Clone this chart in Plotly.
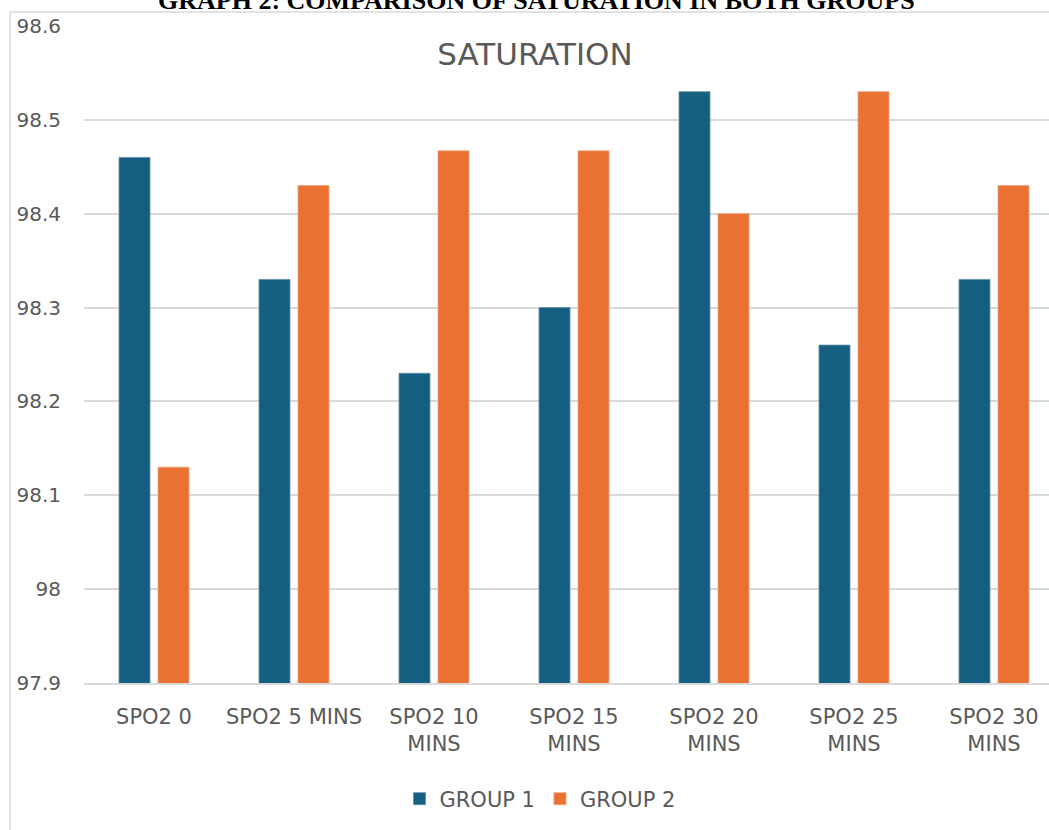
import plotly.graph_objects as go

categories = ["SPO2 0", "SPO2 5 MINS", "SPO2 10<br>MINS", "SPO2 15<br>MINS",
              "SPO2 20<br>MINS", "SPO2 25<br>MINS", "SPO2 30<br>MINS"]
group1 = [98.46, 98.33, 98.23, 98.30, 98.53, 98.26, 98.33]
group2 = [98.13, 98.43, 98.467, 98.467, 98.40, 98.53, 98.43]
y_tickvals = [97.9, 98.0, 98.1, 98.2, 98.3, 98.4, 98.5, 98.6]
y_ticktext = ["97.9", "98", "98.1", "98.2", "98.3", "98.4", "98.5", "98.6"]

W, H = 1049, 830
L, T, B = 84, 26, 147
PW = W - L
PH = H - T - B

def px_x(p):
    return (p - L) / PW

def px_y(p):
    return (H - B - p) / PH

fig = go.Figure()
fig.add_trace(go.Bar(name="GROUP 1", x=categories, y=group1,
                     marker=dict(color="#156082", line=dict(color="#5f8fa8", width=0.8))))
fig.add_trace(go.Bar(name="GROUP 2", x=categories, y=group2,
                     marker=dict(color="#E97132", line=dict(color="#f0a27a", width=0.8))))

font_name = "DejaVu Sans"
grey = "#595959"

fig.update_layout(
    width=W, height=H, autosize=False,
    margin=dict(l=L, r=0, t=T, b=B, pad=0),
    paper_bgcolor="white", plot_bgcolor="white",
    barmode="group", bargap=0.443, bargroupgap=0.205,
    font=dict(family=font_name, color=grey, size=21),
    title=dict(text="SATURATION", x=535 / W, xref="container", xanchor="center",
               y=1 - 54 / H, yref="container", yanchor="middle",
               font=dict(family=font_name, size=31, color=grey)),
    showlegend=True,
    legend=dict(orientation="h", x=px_x(540), xanchor="center",
                y=px_y(799), yanchor="middle",
                font=dict(family=font_name, size=21, color=grey),
                bgcolor="rgba(0,0,0,0)"),
    xaxis=dict(range=[-0.5, -0.5 + PW / 140.0], showgrid=False,
               showline=True, linecolor="#d9d9d9", linewidth=1.5,
               ticks="", tickfont=dict(size=21, color=grey),
               ticklabelstandoff=14, fixedrange=True),
    yaxis=dict(range=[97.9, 98.6], tickvals=y_tickvals, ticktext=y_ticktext,
               showgrid=True, gridcolor="#d9d9d9", gridwidth=1.5,
               zeroline=False, showline=False, ticks="",
               tickfont=dict(size=20, color=grey), ticklabelstandoff=22),
)

# chart area border (light grey), cut at right and bottom like the reference
fig.add_shape(type="rect", xref="paper", yref="paper",
              x0=px_x(10), x1=px_x(1060), y0=px_y(845), y1=px_y(12),
              line=dict(color="#d9d9d9", width=1.5), fillcolor="rgba(0,0,0,0)",
              layer="below")

# document heading above the chart (partially cut off at the top)
fig.add_annotation(text="<b>GRAPH 2: COMPARISON OF SATURATION IN BOTH GROUPS</b>",
                   xref="paper", yref="paper", x=px_x(536), y=px_y(1),
                   xanchor="center", yanchor="middle", showarrow=False,
                   font=dict(family="Liberation Serif", size=26, color="black"))

fig.write_html("out.html")
